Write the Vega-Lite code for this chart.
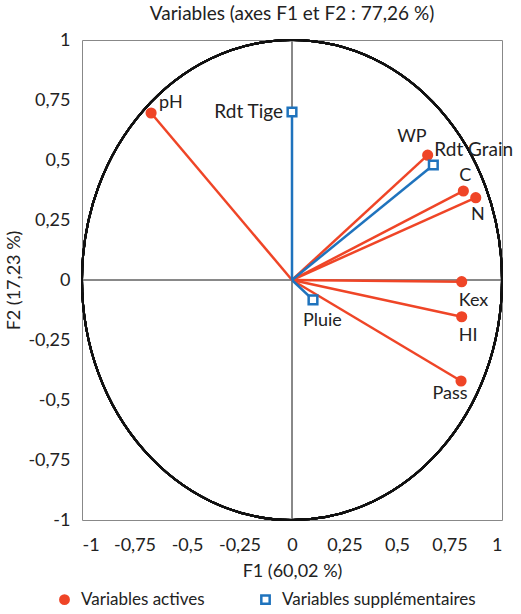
{
  "$schema": "https://vega.github.io/schema/vega-lite/v6.json",
  "autosize": {"type": "none"},
  "width": 420,
  "height": 480,
  "padding": {"left": 82, "top": 40, "right": 19, "bottom": 94},
  "background": "white",
  "config": {
    "font": "Lato",
    "view": {"stroke": "#888", "strokeWidth": 1},
    "axis": {"grid": false, "ticks": false, "domain": false, "labelFont": "Lato", "labelFontSize": 18, "labelColor": "#222", "titleFont": "Lato", "titleFontSize": 18, "titleFontWeight": "normal", "titleColor": "#222"},
    "title": {"font": "Lato", "fontSize": 19, "fontWeight": "normal", "color": "#222", "offset": 7},
    "legend": {"labelFont": "Lato", "labelFontSize": 17, "labelColor": "#222", "labelLimit": 0, "orient": "none", "direction": "horizontal", "legendX": -26, "legendY": 551, "columnPadding": 51, "symbolSize": 70, "symbolStrokeWidth": 2.5, "labelOffset": 8, "title": null}
  },
  "title": "Variables (axes F1 et F2 : 77,26 %)",
  "data": {
    "values": [
      {"name": "pH", "F1": -0.671, "F2": 0.696, "type": "Variables actives"},
      {"name": "WP", "F1": 0.646, "F2": 0.52, "type": "Variables actives"},
      {"name": "C", "F1": 0.816, "F2": 0.371, "type": "Variables actives"},
      {"name": "N", "F1": 0.875, "F2": 0.343, "type": "Variables actives"},
      {"name": "Kex", "F1": 0.808, "F2": -0.007, "type": "Variables actives"},
      {"name": "HI", "F1": 0.808, "F2": -0.153, "type": "Variables actives"},
      {"name": "Pass", "F1": 0.805, "F2": -0.421, "type": "Variables actives"},
      {"name": "Rdt Tige", "F1": 0.0, "F2": 0.70, "type": "Variables supplémentaires"},
      {"name": "Rdt Grain", "F1": 0.673, "F2": 0.479, "type": "Variables supplémentaires"},
      {"name": "Pluie", "F1": 0.1, "F2": -0.083, "type": "Variables supplémentaires"}
    ]
  },
  "encoding": {
    "x": {"field": "F1", "type": "quantitative", "scale": {"domain": [-1, 1], "nice": false, "zero": false}, "axis": {"values": [-1, -0.75, -0.5, -0.25, 0, 0.25, 0.5, 0.75, 1], "labelExpr": "replace(toString(datum.value), '.', ',')", "labelPadding": 16, "title": "F1 (60,02 %)", "titlePadding": 8}},
    "y": {"field": "F2", "type": "quantitative", "scale": {"domain": [-1, 1], "nice": false, "zero": false}, "axis": {"values": [-1, -0.75, -0.5, -0.25, 0, 0.25, 0.5, 0.75, 1], "labelExpr": "replace(toString(datum.value), '.', ',')", "labelPadding": 12, "title": "F2 (17,23 %)", "titlePadding": 4}}
  },
  "layer": [
    {"mark": {"type": "rule", "color": "#888", "strokeWidth": 1}, "encoding": {"x": {"datum": 0}, "y": null}},
    {"mark": {"type": "rule", "color": "#888", "strokeWidth": 1}, "encoding": {"y": {"datum": 0}, "x": null}},
    {"mark": {"type": "point", "shape": "M -0.875 0 A 0.875 1 0 1 1 0.875 0 A 0.875 1 0 1 1 -0.875 0 Z", "size": 230400, "filled": false, "stroke": "#111", "strokeWidth": 2, "opacity": 1},
     "encoding": {"x": {"datum": 0}, "y": {"datum": 0}}},
    {"mark": {"type": "rule", "strokeWidth": 2.5},
     "encoding": {"x2": {"datum": 0}, "y2": {"datum": 0},
       "stroke": {"field": "type", "type": "nominal", "scale": {"domain": ["Variables actives", "Variables supplémentaires"], "range": ["#ef4527", "#1f73bd"]}}}},
    {"mark": {"type": "point", "strokeWidth": 2.5, "opacity": 1, "size": 75},
     "encoding": {
       "shape": {"field": "type", "type": "nominal", "scale": {"domain": ["Variables actives", "Variables supplémentaires"], "range": ["circle", "square"]}},
       "fill": {"field": "type", "type": "nominal", "scale": {"domain": ["Variables actives", "Variables supplémentaires"], "range": ["#ef4527", "#ffffff"]}},
       "stroke": {"field": "type", "type": "nominal"}
     }},
    {"transform": [{"filter": "datum.name == 'pH'"}], "mark": {"type": "text", "align": "left", "baseline": "middle", "dx": 8, "dy": -10, "fontSize": 18, "color": "#222"}, "encoding": {"text": {"field": "name"}}},
    {"transform": [{"filter": "datum.name == 'Rdt Tige'"}], "mark": {"type": "text", "align": "right", "baseline": "middle", "dx": -9, "dy": 0, "fontSize": 19, "color": "#222"}, "encoding": {"text": {"field": "name"}}},
    {"transform": [{"filter": "datum.name == 'WP'"}], "mark": {"type": "text", "align": "right", "baseline": "middle", "dx": -1, "dy": -18, "fontSize": 18, "color": "#222"}, "encoding": {"text": {"field": "name"}}},
    {"transform": [{"filter": "datum.name == 'Rdt Grain'"}], "mark": {"type": "text", "align": "left", "baseline": "middle", "dx": 1, "dy": -15, "fontSize": 19, "color": "#222"}, "encoding": {"text": {"field": "name"}}},
    {"transform": [{"filter": "datum.name == 'C'"}], "mark": {"type": "text", "align": "center", "baseline": "middle", "dx": 2, "dy": -15, "fontSize": 18, "color": "#222"}, "encoding": {"text": {"field": "name"}}},
    {"transform": [{"filter": "datum.name == 'N'"}], "mark": {"type": "text", "align": "center", "baseline": "middle", "dx": 2, "dy": 17, "fontSize": 18, "color": "#222"}, "encoding": {"text": {"field": "name"}}},
    {"transform": [{"filter": "indexof(['Kex','HI'], datum.name) >= 0"}], "mark": {"type": "text", "align": "left", "baseline": "middle", "dx": -3, "dy": 19, "fontSize": 18, "color": "#222"}, "encoding": {"text": {"field": "name"}}},
    {"transform": [{"filter": "datum.name == 'Pass'"}], "mark": {"type": "text", "align": "center", "baseline": "middle", "dx": -11, "dy": 13, "fontSize": 18, "color": "#222"}, "encoding": {"text": {"field": "name"}}},
    {"transform": [{"filter": "datum.name == 'Pluie'"}], "mark": {"type": "text", "align": "left", "baseline": "middle", "dx": -10, "dy": 21, "fontSize": 18, "color": "#222"}, "encoding": {"text": {"field": "name"}}}
  ]
}
